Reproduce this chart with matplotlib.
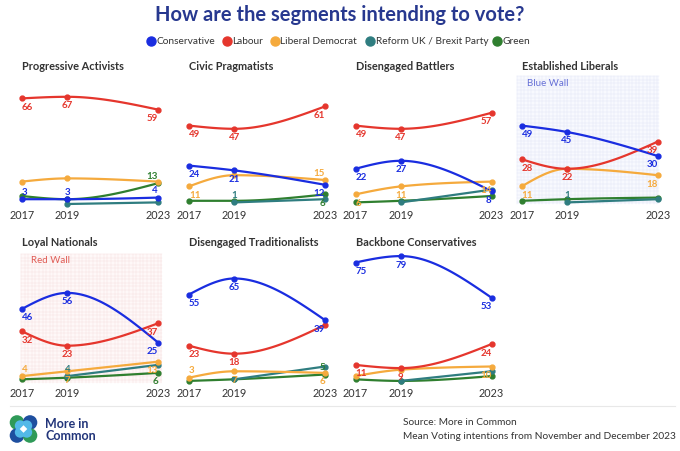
import numpy as np
import matplotlib
matplotlib.use("Agg")
import matplotlib.pyplot as plt
from matplotlib.patches import Rectangle, Circle, Polygon

plt.rcParams['font.family'] = ['Lato', 'DejaVu Sans']

# ---------------- data ----------------
years = [2017, 2019, 2023]
parties = ["Conservative", "Labour", "Liberal Democrat", "Reform UK / Brexit Party", "Green"]
party_colors = {"Conservative": "#1a2de0", "Labour": "#e5362d", "Liberal Democrat": "#f5aa3d",
                "Reform UK / Brexit Party": "#2f7d80", "Green": "#2f7f2f"}
nan = np.nan

segments = ["Progressive Activists", "Civic Pragmatists", "Disengaged Battlers", "Established Liberals",
            "Loyal Nationals", "Disengaged Traditionalists", "Backbone Conservatives"]

con = {"Progressive Activists": [3, 3, 4], "Civic Pragmatists": [24, 21, 12], "Disengaged Battlers": [22, 27, 8],
       "Established Liberals": [49, 45, 30], "Loyal Nationals": [46, 56, 25],
       "Disengaged Traditionalists": [55, 65, 39], "Backbone Conservatives": [75, 79, 53]}
lab = {"Progressive Activists": [66, 67, 59], "Civic Pragmatists": [49, 47, 61], "Disengaged Battlers": [49, 47, 57],
       "Established Liberals": [28, 22, 39], "Loyal Nationals": [32, 23, 37],
       "Disengaged Traditionalists": [23, 18, 36], "Backbone Conservatives": [11, 9, 24]}
ld = {"Progressive Activists": [14, 16, 14], "Civic Pragmatists": [11, 18, 15], "Disengaged Battlers": [6, 11, 14],
      "Established Liberals": [11, 22, 18], "Loyal Nationals": [4, 7, 13],
      "Disengaged Traditionalists": [3, 7, 6], "Backbone Conservatives": [4, 8, 10]}
reform = {"Progressive Activists": [nan, 0, 1], "Civic Pragmatists": [nan, 1, 3], "Disengaged Battlers": [nan, 1, 9],
          "Established Liberals": [nan, 1, 3], "Loyal Nationals": [nan, 4, 11],
          "Disengaged Traditionalists": [nan, 2, 10], "Backbone Conservatives": [nan, 1, 7]}
green = {"Progressive Activists": [5, 3, 13], "Civic Pragmatists": [2, 2, 6], "Disengaged Battlers": [1, 2, 5],
         "Established Liberals": [2, 3, 4], "Loyal Nationals": [2, 3, 6],
         "Disengaged Traditionalists": [1, 2, 5], "Backbone Conservatives": [2, 1, 4]}
series = {"Conservative": con, "Labour": lab, "Liberal Democrat": ld,
          "Reform UK / Brexit Party": reform, "Green": green}

# which points carry a value label: (party, year index, 'a' above / 'b' below)
value_labels = {
    "Progressive Activists": [("Labour", 0, 'b'), ("Labour", 1, 'b'), ("Labour", 2, 'b'),
                              ("Conservative", 0, 'a'), ("Conservative", 1, 'a'), ("Conservative", 2, 'a'),
                              ("Green", 2, 'a')],
    "Civic Pragmatists": [("Labour", 0, 'b'), ("Labour", 1, 'b'), ("Labour", 2, 'b'),
                          ("Conservative", 0, 'b'), ("Conservative", 1, 'b'), ("Conservative", 2, 'b'),
                          ("Liberal Democrat", 0, 'b'), ("Liberal Democrat", 2, 'a'),
                          ("Reform UK / Brexit Party", 1, 'a'), ("Green", 2, 'b')],
    "Disengaged Battlers": [("Labour", 0, 'b'), ("Labour", 1, 'b'), ("Labour", 2, 'b'),
                            ("Conservative", 0, 'b'), ("Conservative", 1, 'b'), ("Conservative", 2, 'b'),
                            ("Liberal Democrat", 0, 'b'), ("Liberal Democrat", 1, 'b'), ("Liberal Democrat", 2, 'b')],
    "Established Liberals": [("Conservative", 0, 'b'), ("Conservative", 1, 'b'), ("Conservative", 2, 'b'),
                             ("Labour", 0, 'b'), ("Labour", 1, 'b'), ("Labour", 2, 'b'),
                             ("Liberal Democrat", 0, 'b'), ("Liberal Democrat", 2, 'b'),
                             ("Reform UK / Brexit Party", 1, 'a')],
    "Loyal Nationals": [("Conservative", 0, 'b'), ("Conservative", 1, 'b'), ("Conservative", 2, 'b'),
                        ("Labour", 0, 'b'), ("Labour", 1, 'b'), ("Labour", 2, 'b'),
                        ("Liberal Democrat", 0, 'a'), ("Liberal Democrat", 1, 'b'), ("Liberal Democrat", 2, 'b'),
                        ("Reform UK / Brexit Party", 1, 'a'), ("Green", 2, 'b')],
    "Disengaged Traditionalists": [("Conservative", 0, 'b'), ("Conservative", 1, 'b'), ("Conservative", 2, 'b'),
                                   ("Labour", 0, 'b'), ("Labour", 1, 'b'),
                                   ("Liberal Democrat", 0, 'a'), ("Liberal Democrat", 1, 'b'),
                                   ("Liberal Democrat", 2, 'b'), ("Green", 2, 'a')],
    "Backbone Conservatives": [("Conservative", 0, 'b'), ("Conservative", 1, 'b'), ("Conservative", 2, 'b'),
                               ("Labour", 0, 'b'), ("Labour", 1, 'b'), ("Labour", 2, 'b'),
                               ("Liberal Democrat", 2, 'b')],
}

# ---------------- helpers ----------------
W, H = 680, 452


def monotone_x(xs, ys, n=40):
    """d3.curveMonotoneX style interpolation."""
    xs = np.asarray(xs, float)
    ys = np.asarray(ys, float)
    if len(xs) == 2:
        return xs, ys
    m = len(xs)
    s = np.diff(ys) / np.diff(xs)
    h = np.diff(xs)
    t = np.zeros(m)
    for i in range(1, m - 1):
        p = (s[i - 1] * h[i] + s[i] * h[i - 1]) / (h[i - 1] + h[i])
        t[i] = (np.sign(s[i - 1]) + np.sign(s[i])) * min(abs(s[i - 1]), abs(s[i]), 0.5 * abs(p))
    t[0] = (3 * s[0] - t[1]) / 2
    t[-1] = (3 * s[-1] - t[-2]) / 2
    outx, outy = [], []
    u = np.linspace(0, 1, n)
    for i in range(m - 1):
        dx = (xs[i + 1] - xs[i]) / 3
        P = np.array([[xs[i], ys[i]], [xs[i] + dx, ys[i] + dx * t[i]],
                      [xs[i + 1] - dx, ys[i + 1] - dx * t[i + 1]], [xs[i + 1], ys[i + 1]]])
        b = ((1 - u) ** 3)[:, None] * P[0] + (3 * (1 - u) ** 2 * u)[:, None] * P[1] + \
            (3 * (1 - u) * u ** 2)[:, None] * P[2] + (u ** 3)[:, None] * P[3]
        outx.extend(b[:, 0])
        outy.extend(b[:, 1])
    return np.array(outx), np.array(outy)


fig = plt.figure(figsize=(W / 100, H / 100), dpi=100)
fig.patch.set_facecolor("white")

# overlay in pixel coordinates for decoration
ov = fig.add_axes([0, 0, 1, 1], zorder=0)
ov.set_xlim(0, W)
ov.set_ylim(H, 0)
ov.axis('off')

# title
fig.text(0.5, 1 - 15 / H, "How are the segments intending to vote?", ha='center', va='center',
         fontsize=14.5, fontweight='bold', color='#27388f')

# legend
leg_marker_x = [151, 227, 275, 370, 497]
for px, p in zip(leg_marker_x, parties):
    ov.plot([px], [42], 'o', ms=6.5, color=party_colors[p], clip_on=False)
    ov.text(px + 5.5, 42, p, ha='left', va='center', fontsize=7.3, color='#333333')

# wall backgrounds
def wall(x0, x1, y0, y1, face, line, label, lcolor):
    ov.add_patch(Rectangle((x0, y0), x1 - x0, y1 - y0, facecolor=face, edgecolor='none', zorder=0))
    for gx in np.arange(x0, x1 + 0.1, 3.6):
        ov.plot([gx, gx], [y0, y1], color=line, lw=0.35, zorder=0.5)
    for gy in np.arange(y0, y1 + 0.1, 3.6):
        ov.plot([x0, x1], [gy, gy], color=line, lw=0.35, zorder=0.5)
    ov.text(x0 + 10, y0 + 6, label, ha='left', va='center', fontsize=7, color=lcolor, zorder=1)


wall(517, 659, 77, 205, '#f8f9fe', '#e3e7f7', "Blue Wall", '#6670d6')
wall(21, 162, 255, 384, '#fef8f8', '#f7e1e1', "Red Wall", '#e05c55')

# panels
col_left = [22, 189, 355.5, 521.7]
row_zero = [205, 383.5]
panel_w, panel_h = 136, 128

for k, seg in enumerate(segments):
    r, c = divmod(k, 4)
    L = col_left[c]
    z = row_zero[r]
    ax = fig.add_axes([L / W, 1 - z / H, panel_w / W, panel_h / H], zorder=2)
    ax.patch.set_alpha(0)
    ax.set_xlim(2017, 2023)
    ax.set_ylim(0, 80)
    for sp in ax.spines.values():
        sp.set_visible(False)
    ax.set_yticks([])
    ax.set_xticks(years)
    ax.set_xticklabels([str(y) for y in years], fontsize=7.8, color='#333333')
    ax.tick_params(axis='x', length=0, pad=3.5)

    fig.text(L / W, 1 - (66 + (243 - 66) * r) / H, seg, ha='left', va='center',
             fontsize=7.9, fontweight='bold', color='#333333')

    order = ["Green", "Reform UK / Brexit Party", "Liberal Democrat", "Labour", "Conservative"]
    for zi, p in enumerate(order):
        vals = np.array(series[p][seg], float)
        ok = ~np.isnan(vals)
        xs = np.array(years, float)[ok]
        ys = vals[ok]
        cx, cy = monotone_x(xs, ys)
        ax.plot(cx, cy, color=party_colors[p], lw=1.6, clip_on=False, zorder=3 + zi,
                solid_capstyle='round')
        ax.plot(xs, ys, 'o', ms=3.5, color=party_colors[p], clip_on=False, zorder=3 + zi)

    for p, i, pos in value_labels[seg]:
        v = series[p][seg][i]
        ha = 'left' if i == 0 else ('right' if i == 2 else 'center')
        dy = -2.5 if pos == 'b' else 2.5
        va = 'top' if pos == 'b' else 'bottom'
        ax.annotate(str(int(v)), (years[i], v), xytext=(0, dy), textcoords='offset points',
                    ha=ha, va=va, fontsize=7, fontweight='bold', color=party_colors[p],
                    zorder=10, annotation_clip=False)

# footer
ov.plot([10, 675], [407, 407], color='#e8e8e8', lw=0.8)
# logo
cxl, cyl = 23.5, 430
off = 6.5
for (dx, dy), col in zip([(-1, -1), (1, -1), (-1, 1), (1, 1)], ['#2f9a58', '#1e4f9f', '#1e4f9f', '#2f9a58']):
    ov.add_patch(Circle((cxl + dx * off, cyl + dy * off), 7.3, facecolor=col, edgecolor='none', zorder=2))
for (dx, dy) in [(-1, -1), (1, -1), (-1, 1), (1, 1)]:
    ov.add_patch(Circle((cxl + dx * 3.3, cyl + dy * 3.3), 5.4, facecolor='#52b9e8', edgecolor='none', zorder=3))
ov.add_patch(Polygon([[cxl, cyl - 3.8], [cxl + 3.8, cyl], [cxl, cyl + 3.8], [cxl - 3.8, cyl]],
                     closed=True, facecolor='white', edgecolor='none', zorder=4))
ov.text(45, 424, "More in", ha='left', va='center', fontsize=9, fontweight='bold', color='#22357a')
ov.text(45, 436.5, "Common", ha='left', va='center', fontsize=9, fontweight='bold', color='#22357a')

ov.text(403, 423, "Source: More in Common", ha='left', va='center', fontsize=7.3, color='#333333')
ov.text(403, 437, "Mean Voting intentions from November and December 2023", ha='left', va='center',
        fontsize=7.3, color='#333333')

fig.savefig("out.png", dpi=100, facecolor='white')
